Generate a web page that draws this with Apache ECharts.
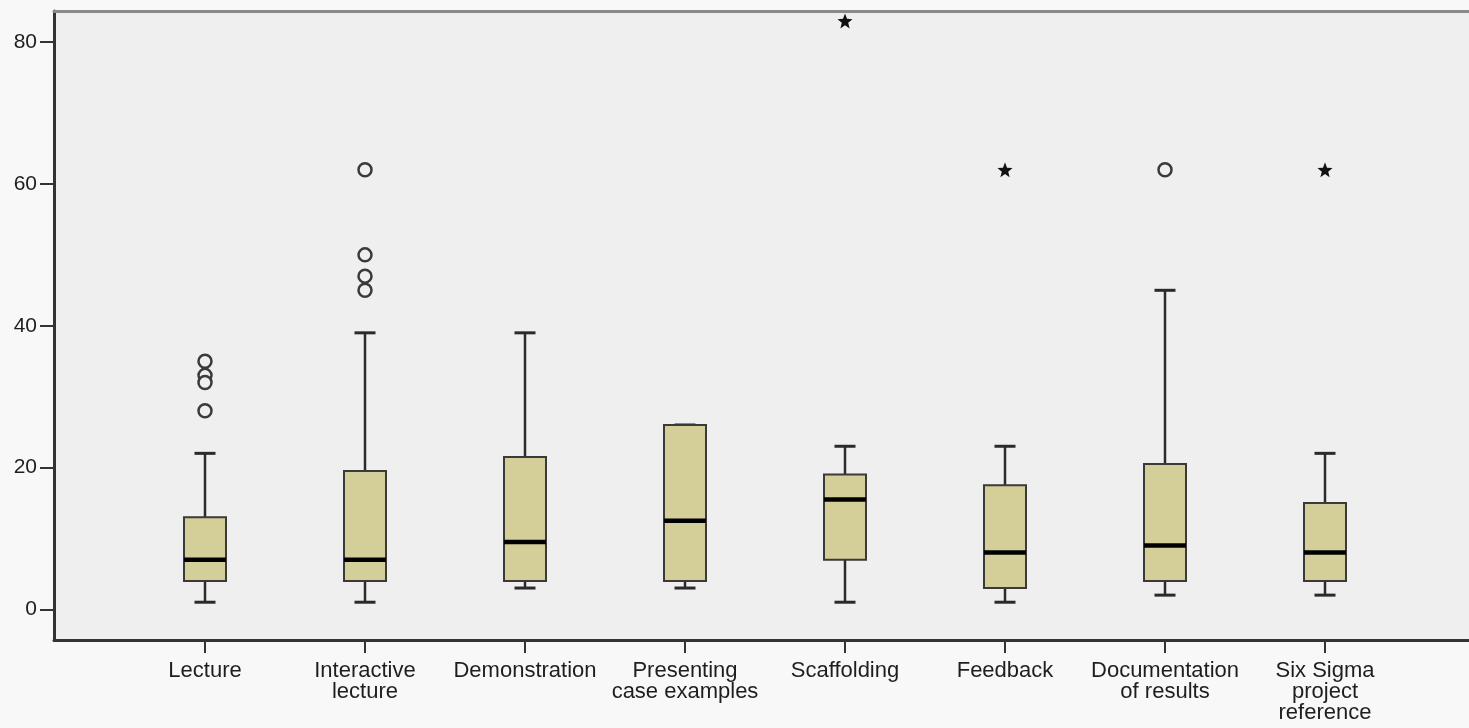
<!DOCTYPE html>
<html>
<head>
<meta charset="utf-8">
<script src="https://cdn.jsdelivr.net/npm/echarts@6/dist/echarts.min.js"></script>
<style>
  html, body { margin: 0; padding: 0; background: #f8f8f8; }
  #chart { width: 1469px; height: 728px; }
</style>
</head>
<body>
<div id="chart"></div>
<script>
// categories (x axis)
const categories = [
  'Lecture', 'Interactive\nlecture', 'Demonstration', 'Presenting\ncase examples',
  'Scaffolding', 'Feedback', 'Documentation\nof results', 'Six Sigma\nproject\nreference'
]
// box statistics per category
const lowWhisker = [1, 1, 3, 3, 1, 1, 2, 2]
const q1 = [4, 4, 4, 4, 7, 3, 4, 4]
const median = [7, 7, 9.5, 12.5, 15.5, 8, 9, 8]
const q3 = [13, 19.5, 21.5, 26, 19, 17.5, 20.5, 15]
const highWhisker = [22, 39, 39, 26, 23, 23, 45, 22]
// outliers: [category index, value]
const circleOutliers = [
  [0, 35], [0, 33], [0, 32], [0, 28],
  [1, 62], [1, 50], [1, 47], [1, 45],
  [6, 62]
]
const starOutliers = [
  [4, 83], [5, 62], [7, 62]
]
// y axis
const yTicks = [0, 20, 40, 60, 80]
const yMin = -4.33
const yMax = 84.4

const boxData = categories.map((c, i) => [i, lowWhisker[i], q1[i], median[i], q3[i], highWhisker[i]])

const chart = echarts.init(document.getElementById('chart'))
const textColor = '#1e1e1e'
const lineColor = '#333'
const font = 'Liberation Sans'

const option = {
  backgroundColor: '#f8f8f8',
  animation: false,
  grid: [
    // frame
    { left: 54, right: 0, top: 11, bottom: 88, show: true, backgroundColor: '#efefef', borderWidth: 0 },
    // data
    { left: 125, width: 1280, top: 11, bottom: 88 }
  ],
  xAxis: [
    {
      gridIndex: 0, type: 'value', min: 0, max: 1, position: 'bottom',
      axisLine: { show: true, onZero: false, lineStyle: { color: lineColor, width: 3 } },
      axisTick: { show: false }, axisLabel: { show: false }, splitLine: { show: false }
    },
    {
      gridIndex: 0, type: 'value', min: 0, max: 1, position: 'top',
      axisLine: { show: true, onZero: false, lineStyle: { color: '#8a8a8a', width: 3 } },
      axisTick: { show: false }, axisLabel: { show: false }, splitLine: { show: false }
    },
    {
      gridIndex: 1, type: 'category', data: categories, boundaryGap: true, position: 'bottom',
      axisLine: { show: false, onZero: false },
      axisTick: { show: true, alignWithLabel: true, length: 13, lineStyle: { color: lineColor, width: 2 } },
      axisLabel: {
        margin: 20, color: textColor, fontFamily: font, fontSize: 22, lineHeight: 21,
        align: 'center', interval: 0
      }
    }
  ],
  yAxis: [
    {
      gridIndex: 0, type: 'value', min: yMin, max: yMax,
      axisLine: { show: true, onZero: false, lineStyle: { color: lineColor, width: 3 } },
      axisTick: { show: true, customValues: yTicks, length: 14, lineStyle: { color: lineColor, width: 2 } },
      axisLabel: {
        customValues: yTicks, margin: 17, color: textColor, fontFamily: font, fontSize: 21,
        padding: [8, 0, 0, 0]
      },
      splitLine: { show: false }
    },
    {
      gridIndex: 1, type: 'value', min: yMin, max: yMax, show: false
    }
  ],
  series: [
    {
      type: 'custom',
      xAxisIndex: 2,
      yAxisIndex: 1,
      data: boxData,
      encode: { x: 0, y: [1, 2, 3, 4, 5] },
      clip: false,
      renderItem: function(params, api) {
        const i = api.value(0)
        const pLow = api.coord([i, api.value(1)])
        const pQ1 = api.coord([i, api.value(2)])
        const pMed = api.coord([i, api.value(3)])
        const pQ3 = api.coord([i, api.value(4)])
        const pHigh = api.coord([i, api.value(5)])
        const cx = Math.round(pMed[0])
        const hb = 21 // half box width
        const hc = 10.5 // half cap width
        const wStyle = { stroke: '#2a2a2a', lineWidth: 2.5 }
        return {
          type: 'group',
          children: [
            { type: 'line', shape: { x1: cx, y1: pQ3[1], x2: cx, y2: pHigh[1] }, style: wStyle },
            { type: 'line', shape: { x1: cx, y1: pQ1[1], x2: cx, y2: pLow[1] }, style: wStyle },
            { type: 'line', shape: { x1: cx - hc, y1: pHigh[1], x2: cx + hc, y2: pHigh[1] }, style: { stroke: '#2a2a2a', lineWidth: 3 } },
            { type: 'line', shape: { x1: cx - hc, y1: pLow[1], x2: cx + hc, y2: pLow[1] }, style: { stroke: '#2a2a2a', lineWidth: 3 } },
            {
              type: 'rect',
              shape: { x: cx - hb, y: pQ3[1], width: hb * 2, height: pQ1[1] - pQ3[1] },
              style: { fill: '#d4cf98', stroke: '#3a3a3a', lineWidth: 2 }
            },
            { type: 'line', shape: { x1: cx - hb, y1: pMed[1], x2: cx + hb, y2: pMed[1] }, style: { stroke: '#000', lineWidth: 4.5 } }
          ]
        }
      }
    },
    {
      type: 'scatter',
      xAxisIndex: 2,
      yAxisIndex: 1,
      data: circleOutliers,
      symbol: 'circle',
      symbolSize: 13,
      clip: false,
      itemStyle: { color: '#efefef', borderColor: '#3a3a3a', borderWidth: 2.5, opacity: 1 },
      z: 5
    },
    {
      type: 'scatter',
      xAxisIndex: 2,
      yAxisIndex: 1,
      data: starOutliers,
      symbol: 'path://M12,0 L15.2,8.3 24,8.8 17.1,14.4 19.4,23 12,18.1 4.6,23 6.9,14.4 0,8.8 8.8,8.3 Z',
      symbolSize: 15,
      clip: false,
      itemStyle: { color: '#111', opacity: 1 },
      z: 5
    }
  ]
}

option && chart.setOption(option)
</script>
</body>
</html>
